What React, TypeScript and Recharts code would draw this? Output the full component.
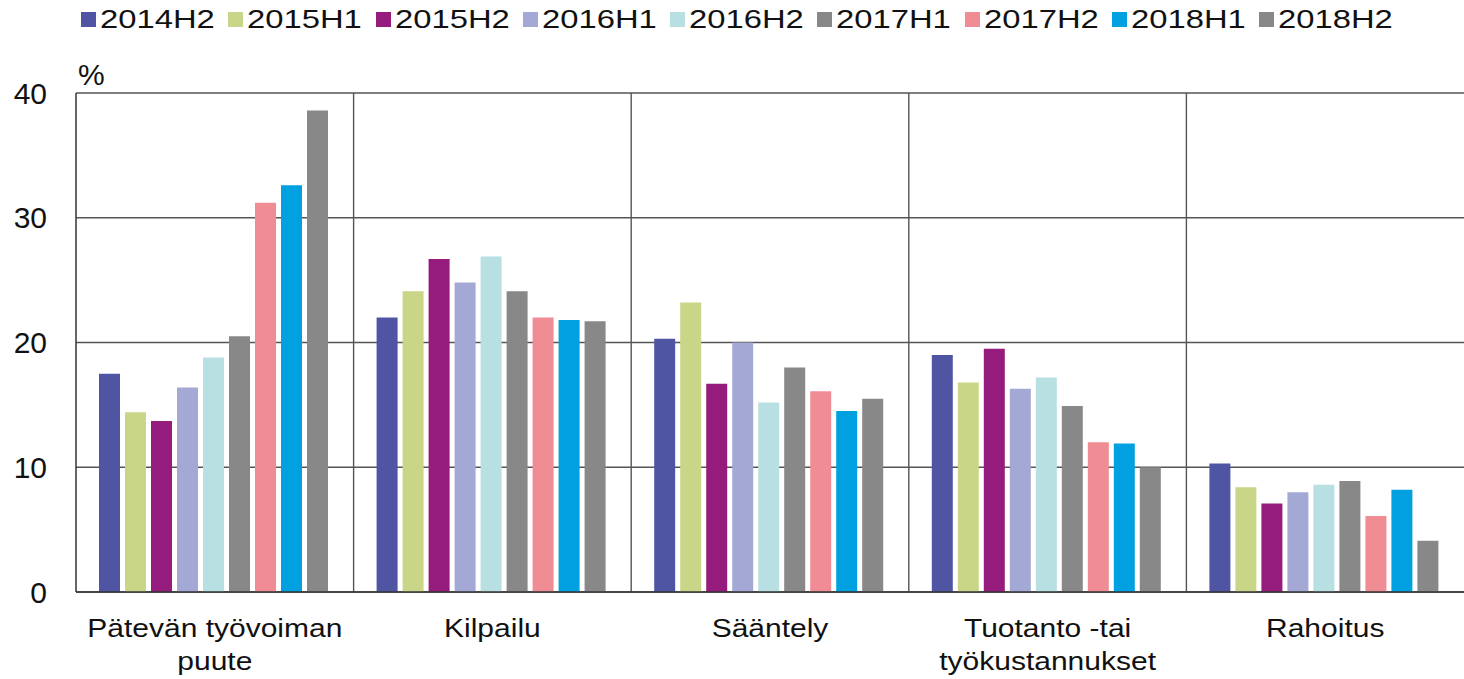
import React from 'react'
import { BarChart, Bar, XAxis, YAxis, CartesianGrid } from 'recharts'

const categories = [
  'Pätevän työvoiman\npuute',
  'Kilpailu',
  'Sääntely',
  'Tuotanto -tai\ntyökustannukset',
  'Rahoitus',
]

const periods = ['2014H2', '2015H1', '2015H2', '2016H1', '2016H2', '2017H1', '2017H2', '2018H1', '2018H2']

const colors = ['#4F55A3', '#C9D688', '#951B7C', '#A3A8D4', '#B8DFE1', '#888888', '#F08C94', '#00A0E1', '#888888']

// values in %, one list per survey period, same order as categories
const v2014H2 = [17.5, 22.0, 20.3, 19.0, 10.3]
const v2015H1 = [14.4, 24.1, 23.2, 16.8, 8.4]
const v2015H2 = [13.7, 26.7, 16.7, 19.5, 7.1]
const v2016H1 = [16.4, 24.8, 20.0, 16.3, 8.0]
const v2016H2 = [18.8, 26.9, 15.2, 17.2, 8.6]
const v2017H1 = [20.5, 24.1, 18.0, 14.9, 8.9]
const v2017H2 = [31.2, 22.0, 16.1, 12.0, 6.1]
const v2018H1 = [32.6, 21.8, 14.5, 11.9, 8.2]
const v2018H2 = [38.6, 21.7, 15.5, 10.0, 4.1]

const seriesValues = [v2014H2, v2015H1, v2015H2, v2016H1, v2016H2, v2017H1, v2017H2, v2018H1, v2018H2]

const yTicks = [0, 10, 20, 30, 40]

const data = categories.map((name, i) => {
  const row: Record<string, string | number> = { name }
  periods.forEach((p, s) => {
    row[p] = seriesValues[s][i]
  })
  return row
})

const FONT = '"Liberation Sans", Arial, sans-serif'

// vertical lines on the band edges between categories
function betweenCategories({ offset }: any) {
  const band = offset.width / categories.length
  return categories.slice(1).map((_, i) => offset.left + band * (i + 1))
}

function CategoryTick(props: any) {
  const { x, y, payload } = props
  const lines = String(payload.value).split('\n')
  return (
    <g transform={`translate(${x},${y})`}>
      <text textAnchor="middle" fontSize={25} fill="#111" fontFamily={FONT} transform="scale(1.2,1)">
        {lines.map((l, i) => (
          <tspan key={i} x={0} y={45 + i * 33}>
            {l}
          </tspan>
        ))}
      </text>
    </g>
  )
}

function LegendRow() {
  return (
    <div style={{ position: 'absolute', top: 6, left: 81, display: 'flex' }}>
      {periods.map((p, i) => (
        <div key={p} style={{ position: 'relative', width: 147.3, height: 26 }}>
          <div style={{ position: 'absolute', left: 0, top: 6, width: 15, height: 15, background: colors[i] }} />
          <span
            style={{
              position: 'absolute',
              left: 19,
              top: 0,
              fontSize: 26,
              lineHeight: '26px',
              color: '#111',
              whiteSpace: 'nowrap',
              transform: 'scaleX(1.26)',
              transformOrigin: 'left',
            }}
          >
            {p}
          </span>
        </div>
      ))}
    </div>
  )
}

export default function App() {
  return (
    <div style={{ position: 'absolute', left: 0, top: 0, width: 1464, height: 679, background: '#fff', fontFamily: FONT }}>
      <LegendRow />
      <span style={{ position: 'absolute', left: 78, top: 60, fontSize: 30, lineHeight: '30px', color: '#111' }}>%</span>
      <BarChart
        width={1464}
        height={679}
        data={data}
        margin={{ top: 93, right: 0, left: 0, bottom: 0 }}
        barCategoryGap={23}
        barGap={5}
      >
        <CartesianGrid stroke="#555" strokeWidth={1.4} verticalCoordinatesGenerator={betweenCategories} />
        <XAxis
          dataKey="name"
          height={87}
          interval={0}
          tickLine={false}
          tickSize={0}
          tickMargin={0}
          axisLine={{ stroke: '#333', strokeWidth: 1.5 }}
          tick={<CategoryTick />}
        />
        <YAxis
          width={76}
          domain={[0, 40]}
          ticks={yTicks}
          tickLine={false}
          tickSize={0}
          tickMargin={29}
          axisLine={{ stroke: '#333', strokeWidth: 1.5 }}
          tick={{ fontSize: 30, fill: '#111', fontFamily: FONT }}
        />
        {periods.map((p, i) => (
          <Bar key={p} dataKey={p} fill={colors[i]} isAnimationActive={false} />
        ))}
      </BarChart>
    </div>
  )
}
